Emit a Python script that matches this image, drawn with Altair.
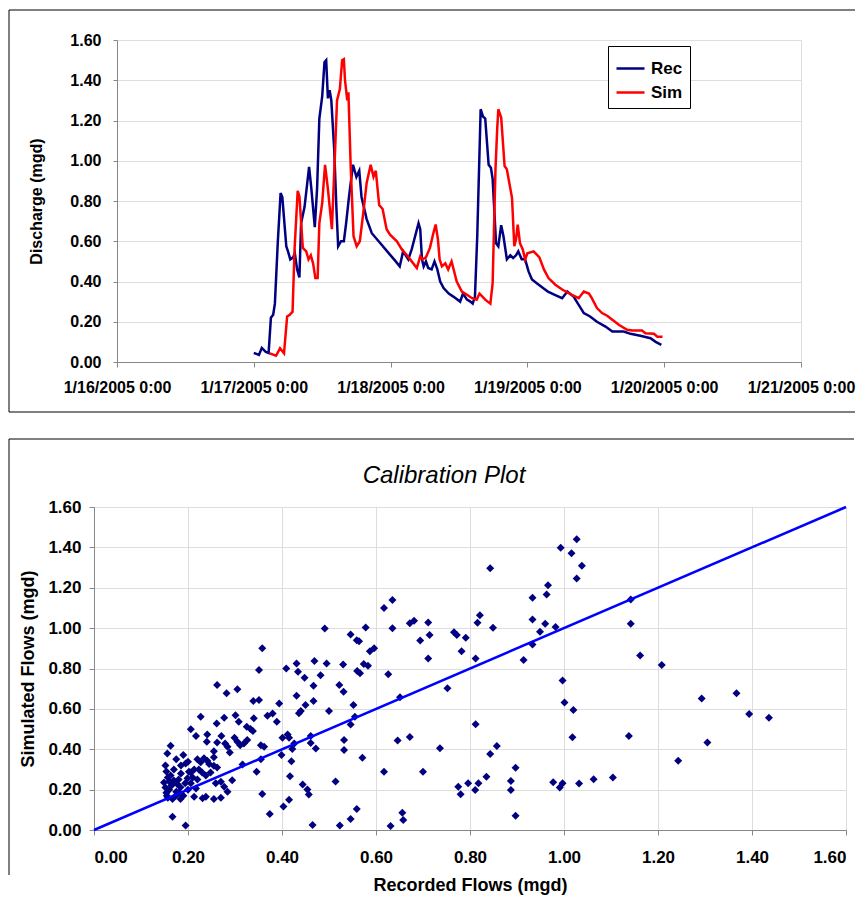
import altair as alt
import pandas as pd

# ---------------- data ----------------
series_names = ["Rec", "Sim"]
series_colors = ["#000080", "#FF0000"]
flow_ticks = [0.0, 0.2, 0.4, 0.6, 0.8, 1.0, 1.2, 1.4, 1.6]
day_ticks = [16, 17, 18, 19, 20, 21]

# hours after 1/17/2005 0:00
rec_hours = [0.0, 0.9, 1.4, 2.1, 2.6, 3.0, 3.4, 3.7, 4.2, 4.7, 5.0, 5.7, 6.0, 6.4, 6.9, 7.2,
             7.6, 8.0, 8.3, 8.9, 9.7, 10.1, 10.7, 11.1, 11.5, 12.0, 12.4, 12.7, 13.0, 13.3,
             13.6, 14.1, 14.5, 14.8, 15.3, 15.8, 16.2, 16.7, 17.4, 18.0, 18.5, 18.9, 19.8,
             20.7, 22.2, 23.7, 24.9, 25.6, 26.2, 27.1, 27.7, 28.3, 28.9, 29.2, 29.5, 29.8,
             30.2, 30.6, 31.2, 31.7, 32.2, 32.7, 33.3, 34.2, 35.0, 36.2, 36.7, 37.4, 38.0,
             38.4, 38.8, 39.2, 39.8, 40.2, 40.6, 41.2, 41.6, 41.9, 42.5, 42.9, 43.4, 43.8,
             44.4, 45.0, 45.5, 46.0, 46.4, 47.0, 47.6, 48.2, 48.8, 49.7, 50.8, 51.6, 52.8,
             54.1, 55.0, 56.1, 57.0, 57.9, 59.0, 60.2, 61.7, 62.9, 64.9, 66.1, 67.8, 69.6,
             70.5, 71.5]
rec_vals = [0.045, 0.035, 0.07, 0.05, 0.045, 0.22, 0.235, 0.29, 0.59, 0.84, 0.82, 0.575,
            0.55, 0.51, 0.52, 0.54, 0.46, 0.42, 0.69, 0.77, 0.97, 0.86, 0.67, 0.86, 1.21,
            1.32, 1.49, 1.50, 1.31, 1.35, 1.30, 1.06, 0.76, 0.575, 0.60, 0.60, 0.69, 0.82,
            0.98, 0.92, 0.95, 0.82, 0.71, 0.64, 0.59, 0.54, 0.50, 0.475, 0.55, 0.51, 0.56,
            0.625, 0.69, 0.66, 0.51, 0.475, 0.50, 0.467, 0.46, 0.50, 0.46, 0.40, 0.367, 0.34,
            0.325, 0.30, 0.34, 0.31, 0.30, 0.29, 0.325, 0.625, 1.256, 1.22, 1.21, 0.98, 0.965,
            0.91, 0.59, 0.575, 0.68, 0.625, 0.51, 0.53, 0.517, 0.53, 0.55, 0.51, 0.51, 0.45,
            0.41, 0.39, 0.367, 0.35, 0.334, 0.317, 0.35, 0.325, 0.284, 0.243, 0.226, 0.20,
            0.176, 0.151, 0.151, 0.14, 0.13, 0.118, 0.10, 0.085]

sim_hours = [2.8, 3.9, 4.6, 5.3, 5.85, 6.3, 6.8, 7.15, 7.7, 8.0, 8.6, 9.2, 9.6, 10.0, 10.4,
             10.8, 11.2, 11.5, 12.0, 12.5, 13.0, 13.7, 14.2, 14.6, 15.1, 15.5, 15.8, 16.0,
             16.4, 16.6, 17.0, 17.5, 18.05, 18.6, 19.2, 19.8, 20.5, 21.0, 21.4, 22.0, 22.6,
             23.3, 23.9, 25.1, 26.0, 26.8, 27.7, 28.6, 29.2, 29.6, 30.2, 30.9, 31.5, 31.9,
             32.3, 32.6, 33.0, 33.6, 34.1, 34.7, 35.6, 36.5, 37.4, 38.3, 39.1, 39.6, 40.6,
             41.5, 41.9, 42.4, 42.7, 42.9, 43.4, 44.0, 44.4, 45.3, 45.7, 46.0, 46.3, 46.7,
             47.2, 47.6, 48.0, 49.1, 50.1, 50.9, 51.7, 52.9, 54.1, 55.8, 57.0, 57.9, 58.8,
             59.3, 60.2, 61.1, 62.0, 62.9, 64.1, 65.5, 66.4, 68.1, 68.7, 70.2, 70.8, 71.7]
sim_vals = [0.043, 0.031, 0.068, 0.043, 0.226, 0.234, 0.25, 0.56, 0.85, 0.824, 0.567, 0.55,
            0.51, 0.53, 0.49, 0.417, 0.417, 0.69, 0.79, 0.98, 0.86, 0.66, 1.007, 1.30, 1.356,
            1.50, 1.505, 1.40, 1.30, 1.34, 0.97, 0.625, 0.575, 0.60, 0.74, 0.89, 0.98, 0.92,
            0.95, 0.78, 0.76, 0.66, 0.633, 0.60, 0.558, 0.533, 0.50, 0.467, 0.525, 0.51, 0.52,
            0.567, 0.64, 0.683, 0.61, 0.51, 0.475, 0.49, 0.46, 0.50, 0.40, 0.35, 0.334, 0.317,
            0.31, 0.34, 0.31, 0.29, 0.39, 0.957, 1.157, 1.256, 1.215, 0.974, 0.957, 0.816,
            0.575, 0.608, 0.683, 0.59, 0.558, 0.51, 0.54, 0.55, 0.52, 0.46, 0.417, 0.384, 0.36,
            0.334, 0.317, 0.35, 0.34, 0.317, 0.268, 0.243, 0.23, 0.21, 0.184, 0.16, 0.156,
            0.156, 0.143, 0.14, 0.126, 0.126]

# calibration scatter: recorded (x) vs simulated (y)
rec_flow = [0.491, 0.578, 0.546, 0.559, 0.564, 0.358, 0.587, 0.596, 0.351, 0.409, 0.431, 0.434,
            0.469, 0.495, 0.530, 0.574, 0.583, 0.482, 0.448, 0.467, 0.522, 0.531, 0.560, 0.566,
            0.262, 0.282, 0.305, 0.339, 0.351, 0.431, 0.394, 0.450, 0.467, 0.440, 0.436, 0.500,
            0.552, 0.555, 0.546, 0.227, 0.277, 0.261, 0.301, 0.308, 0.325, 0.333, 0.338, 0.340,
            0.369, 0.380, 0.389, 0.206, 0.217, 0.241, 0.240, 0.262, 0.271, 0.279, 0.284, 0.289,
            0.299, 0.305, 0.311, 0.319, 0.326, 0.355, 0.362, 0.355, 0.346, 0.316, 0.401, 0.412,
            0.415, 0.399, 0.422, 0.426, 0.420, 0.417, 0.461, 0.461, 0.472, 0.444, 0.454, 0.457,
            0.358, 0.374, 0.403, 0.415, 0.465, 0.514, 0.523, 0.532, 0.532, 0.546, 0.559, 0.571,
            0.163, 0.156, 0.152, 0.154, 0.157, 0.149, 0.152, 0.154, 0.157, 0.163, 0.170, 0.177,
            0.184, 0.181, 0.174, 0.167, 0.184, 0.190, 0.195, 0.200, 0.202, 0.199, 0.194, 0.167,
            0.195, 0.206, 0.217, 0.213, 0.231, 0.238, 0.255, 0.270, 0.220, 0.227, 0.234, 0.241,
            0.223, 0.230, 0.238, 0.248, 0.255, 0.262, 0.245, 0.255, 0.255, 0.206, 0.213, 0.259,
            0.270, 0.277, 0.284, 0.294, 0.160, 0.165, 0.175, 0.180, 0.170, 0.185, 0.160, 0.155,
            0.190, 0.200, 0.210, 0.220, 0.185, 0.175,
            1.027, 0.993, 1.016, 1.038, 1.027, 0.843, 0.966, 0.963, 0.933, 0.933, 0.960, 0.949,
            0.982, 0.933, 0.914, 1.142, 1.142, 1.162, 1.208, 0.997, 1.001, 1.020, 1.018, 1.138,
            1.243, 0.821, 0.816, 0.849, 0.812, 0.812, 0.791, 0.766, 0.772, 0.782, 0.752, 0.736,
            0.714, 0.711, 0.711, 0.694, 0.681, 0.672, 0.672, 0.646, 0.651, 0.617, 0.635, 0.635,
            0.626, 0.700, 0.617, 0.656, 0.658, 0.631, 0.775, 0.780, 0.796, 0.811, 0.818, 0.835,
            0.843, 0.857, 0.887, 0.887, 0.897, 0.897, 0.977, 0.991, 0.997, 1.032, 1.063, 1.104,
            1.293, 1.367, 1.394, 1.436, 1.305]
sim_flow = [0.998, 1.003, 0.969, 0.940, 0.935, 0.900, 0.886, 0.900, 0.792, 0.800, 0.825, 0.784,
            0.837, 0.825, 0.820, 0.822, 0.814, 0.767, 0.754, 0.714, 0.718, 0.685, 0.788, 0.776,
            0.718, 0.677, 0.697, 0.639, 0.644, 0.665, 0.627, 0.619, 0.639, 0.590, 0.578, 0.590,
            0.619, 0.561, 0.523, 0.561, 0.556, 0.528, 0.569, 0.536, 0.511, 0.500, 0.490, 0.553,
            0.566, 0.577, 0.536, 0.499, 0.466, 0.473, 0.437, 0.434, 0.466, 0.429, 0.412, 0.384,
            0.457, 0.437, 0.420, 0.429, 0.446, 0.420, 0.412, 0.351, 0.289, 0.325, 0.457, 0.473,
            0.457, 0.371, 0.401, 0.429, 0.340, 0.266, 0.466, 0.431, 0.404, 0.226, 0.201, 0.176,
            0.178, 0.079, 0.117, 0.150, 0.025, 0.240, 0.022, 0.446, 0.396, 0.055, 0.104, 0.358,
            0.417, 0.379, 0.320, 0.290, 0.260, 0.235, 0.210, 0.185, 0.160, 0.270, 0.245, 0.228,
            0.212, 0.187, 0.170, 0.154, 0.154, 0.371, 0.330, 0.338, 0.289, 0.256, 0.231, 0.066,
            0.022, 0.231, 0.206, 0.165, 0.157, 0.165, 0.153, 0.160, 0.350, 0.335, 0.355, 0.343,
            0.300, 0.285, 0.270, 0.285, 0.318, 0.310, 0.327, 0.360, 0.390, 0.285, 0.300, 0.231,
            0.239, 0.214, 0.189, 0.247, 0.200, 0.220, 0.190, 0.250, 0.300, 0.280, 0.240, 0.170,
            0.170, 0.200, 0.260, 0.250, 0.320, 0.350,
            1.440, 1.398, 1.371, 1.309, 1.246, 1.296, 1.213, 1.167, 1.150, 1.043, 1.022, 0.982,
            1.006, 0.919, 0.842, 1.142, 1.022, 0.864, 0.817, 0.740, 0.632, 0.594, 0.459, 0.466,
            0.343, 1.064, 1.027, 1.002, 0.850, 0.524, 0.952, 0.979, 0.966, 0.886, 0.702, 0.405,
            0.966, 1.028, 0.850, 0.939, 1.037, 1.024, 0.461, 0.443, 0.658, 1.100, 1.139, 1.000,
            0.772, 0.289, 0.289, 0.086, 0.050, 0.020, 0.214, 0.177, 0.231, 0.198, 0.231, 0.264,
            0.376, 0.416, 0.243, 0.198, 0.308, 0.071, 0.236, 0.211, 0.231, 0.230, 0.251, 0.260,
            0.652, 0.677, 0.575, 0.556, 0.434]
one_to_one = [0.0, 1.6]

# ---------------- build ----------------
FONT = "Liberation Sans"
start = pd.Timestamp("2005-01-17 00:00")
ts = pd.concat([
    pd.DataFrame({"time": start + pd.to_timedelta(rec_hours, unit="h"),
                  "flow": rec_vals, "series": series_names[0]}),
    pd.DataFrame({"time": start + pd.to_timedelta(sim_hours, unit="h"),
                  "flow": sim_vals, "series": series_names[1]}),
], ignore_index=True)
sc = pd.DataFrame({"rec": rec_flow, "sim": sim_flow})
ref = pd.DataFrame({"rec": one_to_one, "sim": one_to_one})
one = pd.DataFrame({"k": [0]})

day_dt = [alt.DateTime(year=2005, month=1, date=d) for d in day_ticks]


def frame(x0, x1, y0, y1, bottom=True):
    parts = [
        alt.Chart(one).mark_rule(color="black", strokeWidth=1).encode(
            x=alt.value(x0), x2=alt.value(x1), y=alt.value(y0)),
        alt.Chart(one).mark_rule(color="black", strokeWidth=1).encode(
            x=alt.value(x0), y=alt.value(y0), y2=alt.value(y1)),
    ]
    if bottom:
        parts.append(alt.Chart(one).mark_rule(color="black", strokeWidth=1).encode(
            x=alt.value(x0), x2=alt.value(x1), y=alt.value(y1)))
    return parts


def spacer():
    return alt.Chart(one).mark_rule(opacity=0).encode(
        x=alt.value(0), y=alt.value(0), y2=alt.value(1)
    ).properties(width=1, height=1, view=alt.ViewBackground(stroke="transparent"))


W1, H1 = 684, 322
lines = alt.Chart(ts).mark_line(strokeWidth=2.5).encode(
    x=alt.X("time:T",
            scale=alt.Scale(domain=[day_dt[0], day_dt[-1]], nice=False),
            axis=alt.Axis(values=day_dt, format="%-m/%-d/%Y %-H:%M", title=None, grid=False,
                          labelAngle=0, labelFontSize=16, labelFontWeight="bold",
                          tickSize=5, labelPadding=12, labelFlush=False, labelOverlap=False)),
    y=alt.Y("flow:Q", scale=alt.Scale(domain=[0, 1.6], nice=False),
            axis=alt.Axis(values=flow_ticks, format=".2f", title="Discharge (mgd)", grid=True,
                          labelFontSize=16, labelFontWeight="bold", titleFontSize=16,
                          titleFontWeight="bold", tickSize=4, labelPadding=12,
                          titlePadding=25)),
    color=alt.Color("series:N",
                    scale=alt.Scale(domain=series_names, range=series_colors),
                    legend=alt.Legend(title=None, orient="none", legendX=491, legendY=6,
                                      direction="vertical", strokeColor="black",
                                      fillColor="white", padding=7, symbolType="stroke",
                                      symbolSize=784, symbolStrokeWidth=2.5,
                                      labelFont=FONT, labelFontSize=17,
                                      labelFontWeight="bold", labelColor="black",
                                      rowPadding=0, labelOffset=5)),
)
top = alt.layer(*frame(-108, 738, -30, 372), lines).properties(width=W1, height=H1)

W2, H2 = 752, 323
pts = alt.Chart(sc).mark_point(shape="diamond", filled=True, size=64, color="#000080",
                               opacity=1).encode(
    x=alt.X("rec:Q", scale=alt.Scale(domain=[0, 1.6], nice=False),
            axis=alt.Axis(values=flow_ticks, format=".2f", title="Recorded Flows (mgd)",
                          grid=True, labelFontSize=17, labelFontWeight="bold",
                          titleFontSize=18, titleFontWeight="bold", tickSize=5,
                          labelPadding=14, titlePadding=11)),
    y=alt.Y("sim:Q", scale=alt.Scale(domain=[0, 1.6], nice=False),
            axis=alt.Axis(values=flow_ticks, format=".2f", title="Simulated Flows (mgd)",
                          grid=True, labelFontSize=17, labelFontWeight="bold",
                          titleFontSize=18, titleFontWeight="bold", tickSize=5,
                          labelPadding=8, titlePadding=10)),
)
diag = alt.Chart(ref).mark_line(color="#0000FF", strokeWidth=2.5).encode(x="rec:Q", y="sim:Q")
ttl = alt.Chart(one).mark_text(text="Calibration Plot", font=FONT, fontSize=24,
                               fontStyle="italic", align="center", baseline="middle",
                               color="black").encode(x=alt.value(350), y=alt.value(-31))
bottom = alt.layer(*frame(-85, 760, -68, 368, bottom=False), pts, diag, ttl).properties(
    width=W2, height=H2)

row1 = alt.hconcat(spacer(), top, spacing=0).resolve_scale(color="independent").resolve_legend(
    color="independent")
row2 = alt.hconcat(spacer(), bottom, spacing=0)

chart = alt.vconcat(row1, row2, spacing=25).resolve_scale(color="independent").resolve_legend(
    color="independent").properties(
    padding={"left": -3, "top": 1, "right": 0, "bottom": 0}
).configure_view(stroke="black", strokeWidth=1).configure_axis(
    labelFont=FONT, titleFont=FONT, labelFontWeight="bold", titleFontWeight="bold",
    labelColor="black", titleColor="black", domainColor="black", tickColor="black",
    gridColor="black", gridWidth=1, domainWidth=1,
).configure(background="white")

chart.save("out.html", embed_options={"renderer": "svg", "actions": False})
